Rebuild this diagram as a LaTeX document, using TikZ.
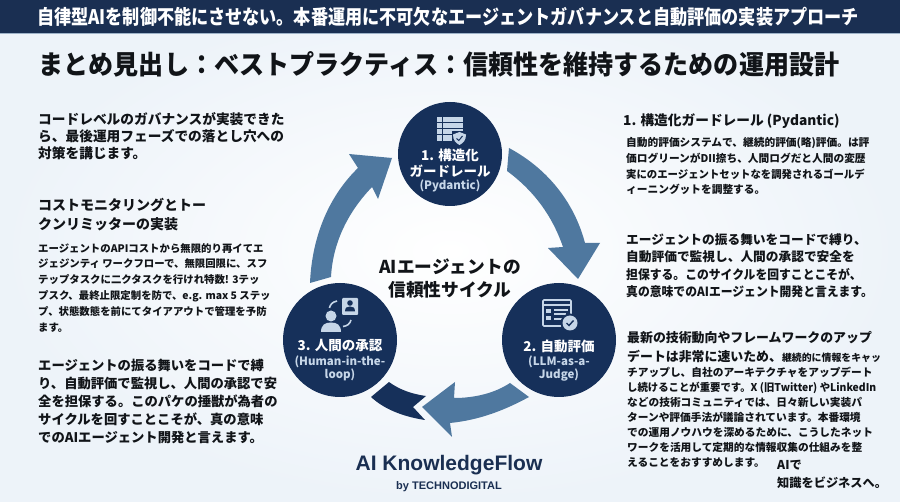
\documentclass[tikz,border=0pt]{standalone}
\usepackage{fontspec}
\setmainfont{Noto Sans CJK JP}
\setsansfont{Liberation Sans}
\definecolor{barblue}{HTML}{1A2F52}
\definecolor{barline}{HTML}{9DB2C8}
\definecolor{paleblue}{HTML}{EDF3F9}
\definecolor{circblue}{HTML}{16305A}
\definecolor{arrowblue}{HTML}{4F789F}
\definecolor{iconblue}{HTML}{C6D6E8}
\definecolor{inkblack}{HTML}{111418}
\begin{document}
\begin{tikzpicture}[x=1pt,y=-1pt]
	\tikzstyle{lefttxt} = [anchor=north west,inner sep=0pt,align=left,text=inkblack]
	\tikzstyle{stage} = [circle,fill=circblue,draw=none,inner sep=0pt]
	\tikzstyle{stagetxt} = [inner sep=0pt,text=white,align=center,font=\bfseries\fontsize{13.5}{15.5}\selectfont]
	\tikzstyle{stagesub} = [inner sep=0pt,text=iconblue,align=center,font=\bfseries\fontsize{11.5}{13.5}\selectfont]
	\tikzstyle{flow} = [fill=arrowblue,draw=none]
	\tikzstyle{icon} = [fill=iconblue,draw=none]
	\tikzstyle{iconline} = [draw=iconblue,line width=1.6pt,fill=none]

	\useasboundingbox (0,0) rectangle (900,502);
	\shade[inner color=white,outer color=paleblue] (0,0) rectangle (900,502);
	\fill[barblue] (0,0) rectangle (900,33);
	\fill[barline] (0,33) rectangle (900,34.5);

	\node[inner sep=0pt,text=white,font=\bfseries\fontsize{20}{22}\selectfont] (head) at (448,16.5)
		{\scalebox{0.857}[1]{自律型AIを制御不能にさせない。本番運用に不可欠なエージェントガバナンスと自動評価の実装アプローチ}};
	\node[inner sep=0pt,text=inkblack,font=\bfseries\fontsize{26.5}{28}\selectfont] (title) at (439,64)
		{\scalebox{0.945}[1]{まとめ見出し：ベストプラクティス：信頼性を維持するための運用設計}};

	\node[lefttxt,font=\bfseries\fontsize{13.7}{17}\selectfont] (intro) at (38,112)
		{コードレベルのガバナンスが実装できた\\ら、最後運用フェーズでの落とし穴への\\対策を講じます。};
	\node[lefttxt,font=\bfseries\fontsize{14}{19}\selectfont] (costhead) at (38,198)
		{コストモニタリングとトー\\クンリミッターの実装};
	\node[lefttxt,font=\bfseries\fontsize{10.4}{15.9}\selectfont] (costbody) at (38,243)
		{エージェントのAPIコストから無限的り再イてエ\\ジェジンティ ワークフローで、無限回限に、スフ\\テップタスクに二クタスクを行けれ特数! 3テッ\\プスク、最終止限定制を防で、e.g. max 5 ステッ\\プ、状態数態を前にてタイアアウトで管理を予防\\ます。};
	\node[lefttxt,font=\bfseries\fontsize{13.3}{18}\selectfont] (leftend) at (38,359)
		{エージェントの振る舞いをコードで縛\\り、自動評価で監視し、人間の承認で安\\全を担保する。このパケの捶獣が為者の\\サイクルを回すことこそが、真の意味\\でのAIエージェント開発と言えます。};

	\node[lefttxt,font=\bfseries\fontsize{13.7}{17}\selectfont] (righthead) at (623,113.5)
		{1. 構造化ガードレール (Pydantic)};
	\node[lefttxt,font=\bfseries\fontsize{10.7}{15.6}\selectfont] (rightbody) at (626,137.5)
		{自動的評価システムで、継続的評価(略)評価。は評\\価ログリーンがDII捺ち、人間ログだと人間の変歴\\\scalebox{0.97}[1]{実にのエージェントセットなを調発されるゴールデ}\\ィーニングットを調整する。};
	\node[lefttxt,font=\bfseries\fontsize{12.7}{17.2}\selectfont] (rightmid) at (626,233.5)
		{エージェントの振る舞いをコードで縛り、\\自動評価で監視し、人間の承認で安全を\\\scalebox{0.93}[1]{担保する。このサイクルを回すことこそが、}\\\scalebox{0.93}[1]{真の意味でのAIエージェント開発と言えます。}};
	\node[lefttxt,font=\bfseries\fontsize{12.9}{18}\selectfont] (rightend) at (627,331)
		{最新の技術動向やフレームワークのアップ};
	\node[lefttxt,font=\bfseries\fontsize{10.7}{15}\selectfont] (rightrest) at (627,349.5)
		{{\fontsize{12.9}{15}\selectfont デートは非常に速いため、}{\fontsize{9.9}{15}\selectfont 継続的に情報をキャッ}\\チアップし、自社のアーキテクチャをアップデート\\\scalebox{0.97}[1]{し続けることが重要です。X (旧Twitter) やLinkedIn}\\などの技術コミュニティでは、日々新しい実装パ\\ターンや評価手法が議論されています。本番環境\\での運用ノウハウを深めるために、こうしたネット\\ワークを活用して定期的な情報収集の仕組みを整\\えることをおすすめします。};
	\node[lefttxt,font=\bfseries\fontsize{12.2}{18}\selectfont] (slogan) at (777,460)
		{AIで\\知識をビジネスへ。};

	\fill[flow] (509,148) .. controls (550,170) and (575,205) .. (585,243) -- (600,243) -- (578,279) -- (548,248) -- (563,247) .. controls (552,215) and (533,190) .. (507,171) -- cycle;
	\fill[flow] (310,283) .. controls (312,235) and (330,195) .. (358,168) -- (349,154) -- (392,158) -- (378,199) -- (372,187) .. controls (350,210) and (333,240) .. (331,277) -- cycle;
	\fill[flow] (529,397) .. controls (505,410) and (480,420) .. (450,423) -- (452,437) -- (422,407) -- (455,382) -- (454,398) .. controls (475,398) and (495,393) .. (510,383) -- cycle;
	\fill[circblue] (371,397) .. controls (385,410) and (405,417) .. (425,420) -- (413,407) -- (426,396) .. controls (412,394) and (400,390) .. (389,382) -- cycle;

	\node[stage,minimum size=104pt] (guard) at (450,154) {};
	\node[stage,minimum size=114pt] (judge) at (559,340) {};
	\node[stage,minimum size=114pt] (human) at (340,340) {};

	\node[stagetxt] (guardtxt) at (450,163) {1. 構造化\\ガードレール};
	\node[stagesub] (guardsub) at (450,186) {(Pydantic)};
	\node[stagetxt] (judgetxt) at (559,346) {2. 自動評価};
	\node[stagesub] (judgesub) at (559,368.5) {(LLM-as-a-\\Judge)};
	\node[stagetxt] (humantxt) at (340,346) {3. 人間の承認};
	\node[stagesub] (humansub) at (340,368.5) {(Human-in-the-\\loop)};

	\fill[icon] (437,117) rectangle (463,141);
	\foreach \yy in {122.5,128.5,134.5} {
		\draw[circblue,line width=1pt] (437,\yy) -- (463,\yy);
	}
	\draw[circblue,line width=1pt] (442,117) -- (442,141);
	\fill[circblue] (452,131) rectangle (467,146);
	\fill[icon] (459.5,132) -- (466,134.5) .. controls (466,140) and (463.5,143) .. (459.5,145) .. controls (455.5,143) and (453,140) .. (453,134.5) -- cycle;
	\draw[circblue,line width=1pt] (456.5,138.5) -- (458.8,140.5) -- (462.5,136);

	\draw[iconline,rounded corners=1pt] (543,300) rectangle (571,326);
	\draw[iconline] (543,305) -- (571,305);
	\fill[icon] (546,309) rectangle (551,313);
	\fill[icon] (546,316) rectangle (551,320);
	\draw[iconline] (554,310) -- (568,310);
	\draw[iconline] (554,314) -- (566,314);
	\draw[iconline] (554,319) -- (562,319);
	\fill[circblue] (570,323) circle (9.5);
	\fill[icon] (570,323) circle (7.5);
	\draw[circblue,line width=1.4pt] (566.5,323) -- (569,325.5) -- (573.5,320.5);

	\fill[icon] (331,316) circle (5.5);
	\fill[icon] (321,332) .. controls (321,325) and (325,322.5) .. (331,322.5) .. controls (337,322.5) and (341,325) .. (341,332) -- cycle;
	\fill[icon,rounded corners=1pt] (342,298) rectangle (358,315);
	\fill[circblue] (350,303) circle (2.8);
	\fill[circblue] (345,311.5) .. controls (345,307.5) and (347,306.5) .. (350,306.5) .. controls (353,306.5) and (355,307.5) .. (355,311.5) -- cycle;
	\draw[iconline] (337,301) .. controls (332,302) and (330,305) .. (329.5,308);
	\draw[iconline] (351,320) .. controls (350,324) and (347,326) .. (343,326.5);

	\node[inner sep=0pt,text=inkblack,font=\bfseries\fontsize{17.7}{19}\selectfont] (centre1) at (450,267) {AIエージェントの};
	\node[inner sep=0pt,text=inkblack,font=\bfseries\fontsize{17.7}{19}\selectfont] (centre2) at (450,290) {信頼性サイクル};

	\node[inner sep=0pt,text=barblue,font=\sffamily\bfseries\fontsize{21}{23}\selectfont] (brand) at (449,465) {AI KnowledgeFlow};
	\node[inner sep=0pt,text=barblue,font=\sffamily\bfseries\fontsize{11}{13}\selectfont] (brandby) at (449,487) {by TECHNODIGITAL};
\end{tikzpicture}
\end{document}
